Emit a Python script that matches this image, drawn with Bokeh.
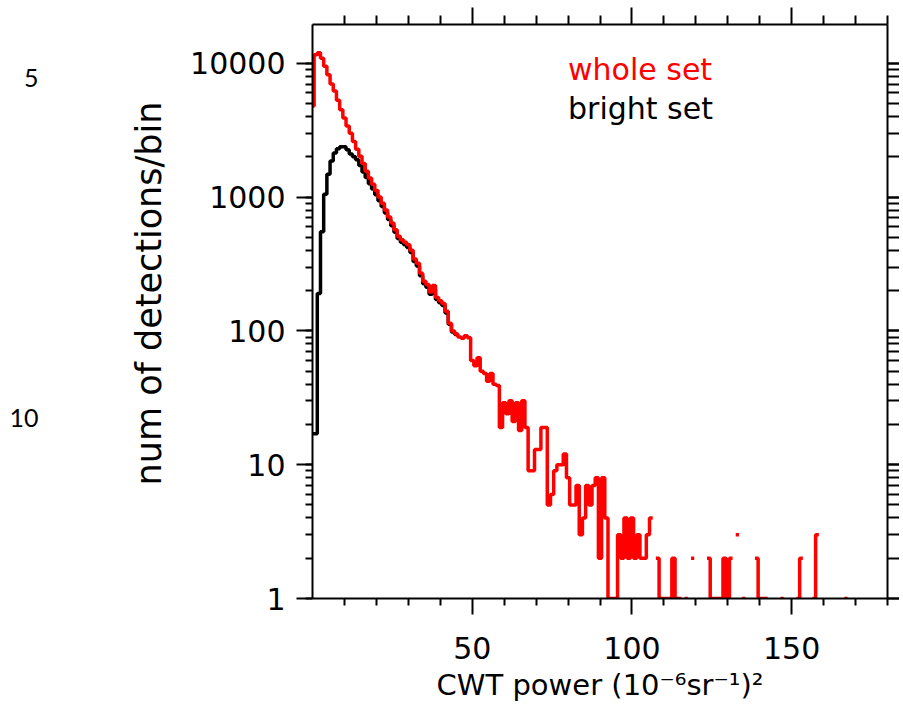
from bokeh.plotting import figure
from bokeh.layouts import row
from bokeh.models import (Range1d, LinearAxis, LogAxis, FixedTicker, LogTicker,
                          PrintfTickFormatter, CustomJSTickFormatter, Label)
from bokeh.core.properties import value
from bokeh.embed import file_html
from bokeh.resources import INLINE
import math

# ---------------- data (histogram, bin width 1, centred on integers) ----------------
bin_centers = list(range(0, 180))

whole_set = [
    4800, 11600, 12000, 10900, 9500, 8200, 7000, 6200, 5300, 4500,
    3900, 3400, 3000, 2600, 2280, 2020, 1780, 1560, 1390, 1250,
    1120, 1000, 900, 800, 710, 640, 570, 510, 480, 460,
    440, 400, 345, 320, 270, 235, 222, 195, 218, 178,
    168, 160, 140, 114, 100, 95, 90, 88, 92, 89,
    60, 55, 63, 50, 48, 42, 48, 40, 39, 19,
    29, 24, 30, 21, 29, 18, 30, 19, 9, 9,
    13, 13, 19, 19, 5, 6, 9, 10, 10, 12,
    8, 5, 5, 7, 3, 4, 7, 5, 7, 8,
    2, 8, 4, 1, 1, 1, 3, 2, 4, 2,
    4, 2, 3, 2, 2, 3, 4, 0, 2, 1,
    1, 1, 1, 2, 1, 1, 0, 1, 0, 2,
    0, 0, 0, 0, 2, 1, 1, 1, 1, 2,
    1, 2, 0, 3, 0, 1, 0, 0, 0, 2,
    1, 1, 1, 0, 0, 0, 0, 1, 0, 0,
    0, 0, 1, 2, 0, 0, 0, 1, 3, 0,
    0, 0, 0, 0, 0, 0, 0, 1, 0, 0,
    0, 0, 0, 0, 0, 0, 0, 0, 0, 0,
]

bright_set = [
    17, 17, 190, 550, 1050, 1480, 1860, 2140, 2300, 2380,
    2380, 2260, 2100, 2000, 1900, 1720, 1540, 1400, 1260, 1150,
    1040, 940, 850, 760, 680, 610, 545, 490, 460, 440,
    420, 385, 330, 305, 258, 225, 212, 188, 205, 172,
    162, 155, 136, 112, 98, 94,
]

x_major_ticks = [50, 100, 150]
x_minor_ticks = [10, 20, 30, 40, 60, 70, 80, 90, 110, 120, 130, 140, 160, 170, 180]

legend_labels = ["whole set", "bright set"]
series_colors = ["#ff0000", "#000000"]
x_title = "CWT power (10\u207b\u2076sr\u207b\u00b9)\u00b2"
y_title = "num of detections/bin"
page_line_numbers = ["5", "10"]

FONT = "DejaVu Sans"
H = 710
LEFT_W = 186
MAIN_W = 713
TOP_B, BOT_B = 24, 112


def step_runs(centers, counts):
    """Histogram outline (IDL psym=10 style); empty bins break the line."""
    xs, ys, cx, cy = [], [], [], []
    for c, n in zip(centers, counts):
        if n > 0:
            cx += [c - 0.5, c + 0.5]
            cy += [n, n]
        elif cx:
            xs.append(cx); ys.append(cy); cx, cy = [], []
    if cx:
        xs.append(cx); ys.append(cy)
    return xs, ys


# ---------------- left strip: page line numbers and y title ----------------
# its frame is aligned with the main frame (rows share top/bottom borders);
# the y range is chosen so that y = H - (pixel row from the top of the page)
lf = figure(width=LEFT_W, height=H, x_range=Range1d(0, LEFT_W),
            y_range=Range1d(BOT_B, H - TOP_B),
            output_backend="svg", toolbar_location=None,
            min_border_left=0, min_border_right=0,
            min_border_top=TOP_B, min_border_bottom=BOT_B)
lf.axis.visible = False
lf.grid.visible = False
lf.outline_line_color = None
lf.text(x=[38, 38], y=[H - 77, H - 417], text=page_line_numbers,
        text_font=value("Lato"), text_font_size="25px", text_color="black",
        text_align="right", text_baseline="alphabetic")
lf.text(x=[148], y=[H - 293], text=[y_title], angle=math.pi / 2,
        text_font=value(FONT), text_font_size="35px", text_color="black",
        text_align="center", text_baseline="alphabetic")

# ---------------- main plot ----------------
p = figure(width=MAIN_W, height=H,
           x_range=Range1d(0, 180), y_range=Range1d(1, 19500),
           y_axis_type="log", output_backend="svg", toolbar_location=None,
           min_border_left=312 - LEFT_W, min_border_right=12,
           min_border_top=TOP_B, min_border_bottom=BOT_B)
p.outline_line_color = None
p.grid.visible = False
p.background_fill_color = "white"
p.border_fill_color = "white"

xt = FixedTicker(ticks=x_major_ticks, minor_ticks=x_minor_ticks)


def style(ax, size="30px", major=16, minor=8):
    ax.axis_line_width = 2
    ax.axis_line_color = "black"
    ax.major_tick_line_width = 2
    ax.minor_tick_line_width = 2
    ax.major_tick_line_color = "black"
    ax.minor_tick_line_color = "black"
    ax.major_tick_in = 0
    ax.minor_tick_in = 0
    ax.major_tick_out = major
    ax.minor_tick_out = minor
    ax.major_label_text_font = FONT
    ax.major_label_text_font_size = size
    ax.major_label_text_color = "black"


bx = p.xaxis[0]
bx.ticker = xt
style(bx, major=16, minor=7)
bx.major_label_standoff = 22
bx.axis_label = x_title
bx.axis_label_text_font = FONT
bx.axis_label_text_font_size = "29px"
bx.axis_label_text_font_style = "normal"
bx.axis_label_text_color = "black"
bx.axis_label_standoff = 6

ly = p.yaxis[0]
ly.ticker = LogTicker(num_minor_ticks=10)
ly.formatter = PrintfTickFormatter(format="%d")
style(ly, major=16, minor=7)
ly.major_label_standoff = 11

top = LinearAxis(ticker=xt, formatter=CustomJSTickFormatter(code="return ''"))
style(top, "0px", major=17, minor=9)
top.major_label_standoff = 0
p.add_layout(top, "above")

right = LogAxis(ticker=LogTicker(num_minor_ticks=10),
                formatter=CustomJSTickFormatter(code="return ''"))
style(right, "0px", major=12, minor=12)
right.major_label_standoff = 0
p.add_layout(right, "right")

bxs, bys = step_runs(bin_centers[:len(bright_set)], bright_set)
p.multi_line(bxs, bys, line_color=series_colors[1], line_width=3.5)
wxs, wys = step_runs(bin_centers, whole_set)
p.multi_line(wxs, wys, line_color=series_colors[0], line_width=3.5)

# legend texts
p.add_layout(Label(x=80, y=7550, y_offset=10, text=legend_labels[0],
                   text_color=series_colors[0], text_font=FONT, text_font_size="30px",
                   text_align="left", text_baseline="alphabetic"))
p.add_layout(Label(x=80, y=3900, y_offset=10, text=legend_labels[1],
                   text_color=series_colors[1], text_font=FONT, text_font_size="30px",
                   text_align="left", text_baseline="alphabetic"))

layout = row(lf, p, spacing=0)
open("out.html", "w").write(file_html(layout, INLINE))
